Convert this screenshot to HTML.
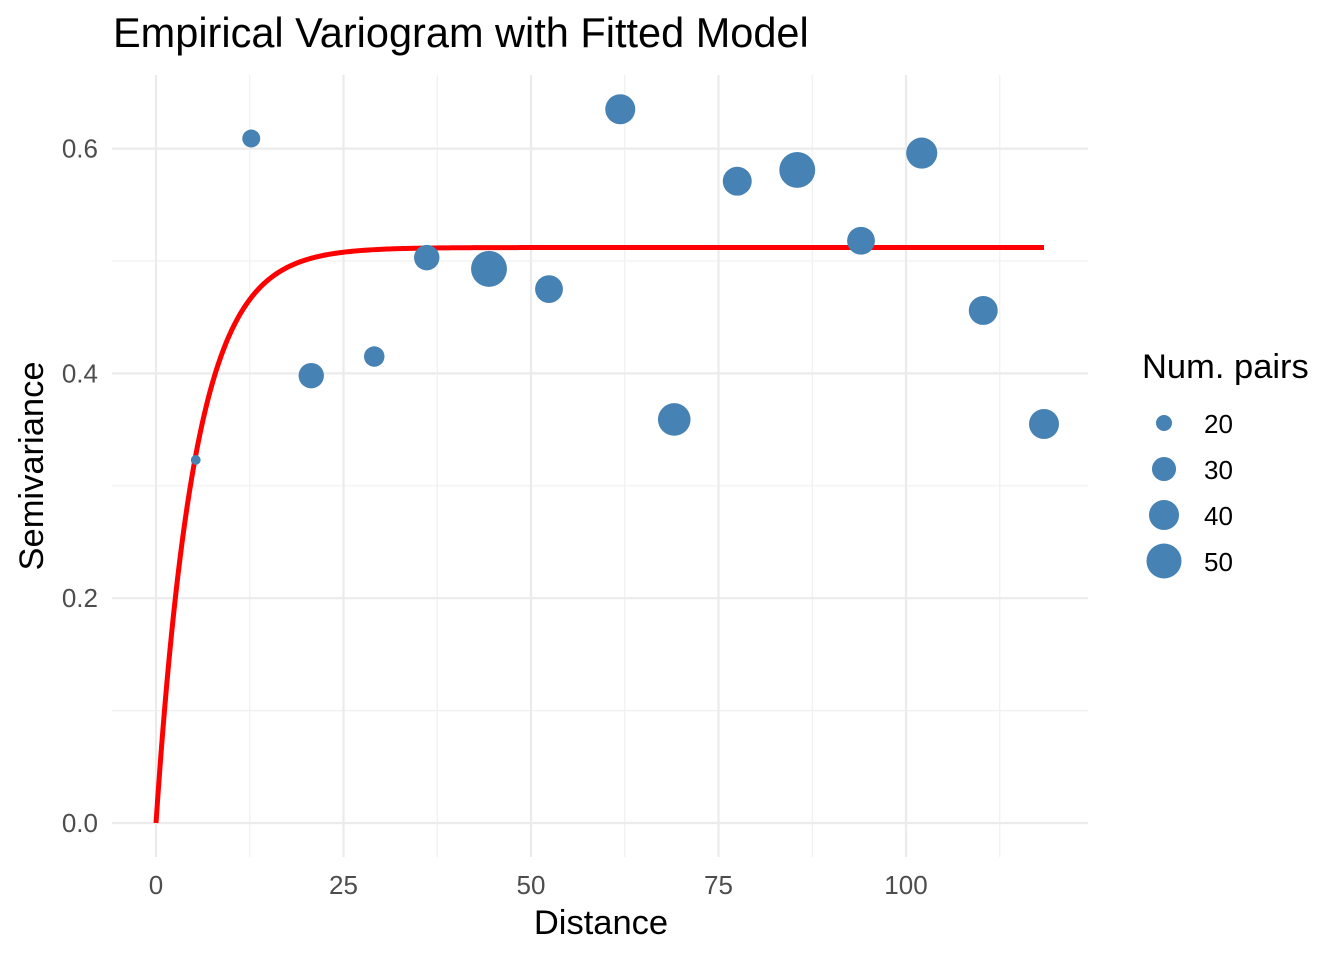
<!DOCTYPE html>
<html><head><meta charset="utf-8"><style>
body{margin:0;background:#fff;font-family:"Liberation Sans",sans-serif}
</style></head><body>
<svg id="chart" width="1344" height="960" xmlns="http://www.w3.org/2000/svg" font-family="Liberation Sans, sans-serif">
<rect width="1344" height="960" fill="#fff"/>
<g id="grid"></g>
<g id="curve"></g>
<g id="points"></g>
<g id="ticks"></g>
<text x="113" y="47" font-size="41.5" fill="#000">Empirical Variogram with Fitted Model</text>
<text x="601" y="934" font-size="34.5" text-anchor="middle" fill="#000">Distance</text>
<text transform="translate(43,466) rotate(-90)" font-size="34.5" text-anchor="middle" fill="#000">Semivariance</text>
<g id="legend">
<text x="1142" y="378" font-size="34.5" fill="#000">Num. pairs</text>
</g>
</svg>
<script>
const distances=[5.3,12.7,20.7,29.1,36.1,44.4,52.4,61.9,69.1,77.5,85.5,94.0,102.1,110.3,118.4];
const gammas=[0.323,0.609,0.398,0.415,0.503,0.493,0.475,0.635,0.359,0.571,0.581,0.518,0.596,0.456,0.355];
const npairs=[15,22,32,25,32,52,36,40,45,38,52,36,42,38,40];
const xTicks=[0,25,50,75,100];
const yTicks=[0.0,0.2,0.4,0.6];
const legendSizes=[20,30,40,50];
const sill=0.512, rangeA=5.2, nugget=0;
const NS="http://www.w3.org/2000/svg";
const X=v=>156+v*7.5, Y=v=>823-v*1124;
const R=n=>Math.sqrt(Math.max(8.07*n-97,16));
function mk(t,a,p){const e=document.createElementNS(NS,t);for(const k in a)e.setAttribute(k,a[k]);p.appendChild(e);return e;}
const grid=document.getElementById('grid');
const L=112,Rt=1088,T=75,B=857;
for(let v=-12.5;v<=125;v+=25){const x=X(v);if(x<L||x>Rt)continue;const l=mk('line',{x1:x,x2:x,y1:T,y2:B,stroke:'#f0f0f0','stroke-width':1.2},grid);}
for(let v=0.1;v<0.7;v+=0.2){const y=Y(v);const l=mk('line',{x1:L,x2:Rt,y1:y,y2:y,stroke:'#f0f0f0','stroke-width':1.2},grid);}
const ticks=document.getElementById('ticks');
xTicks.forEach(v=>{const x=X(v);const l=mk('line',{x1:x,x2:x,y1:T,y2:B,stroke:'#ebebeb','stroke-width':2.2},grid);
const t=mk('text',{x:x,y:894,'font-size':26,'text-anchor':'middle',fill:'#4d4d4d'},ticks);t.textContent=v;});
yTicks.forEach(v=>{const y=Y(v);const l=mk('line',{x1:L,x2:Rt,y1:y,y2:y,stroke:'#ebebeb','stroke-width':2.2},grid);
const t=mk('text',{x:98,y:y+9,'font-size':26,'text-anchor':'end',fill:'#4d4d4d'},ticks);t.textContent=v.toFixed(1);});
let d='';const maxD=Math.max(...distances);
for(let i=0;i<=400;i++){const h=maxD*i/400;const g=nugget+(sill-nugget)*(1-Math.exp(-h/rangeA));d+=(i?'L':'M')+X(h).toFixed(2)+','+Y(g).toFixed(2);}
const c=mk('path',{d:d,fill:'none',stroke:'#ff0000','stroke-width':5},document.getElementById('curve'));


const pts=document.getElementById('points');
distances.forEach((h,i)=>{const p=mk('circle',{cx:X(h),cy:Y(gammas[i]),r:R(npairs[i]),fill:'#4682b4'},pts);

});
const lg=document.getElementById('legend');
legendSizes.forEach((n,i)=>{const y=423+i*46;const c=mk('circle',{cx:1164,cy:y,r:R(n),fill:'#4682b4'},lg);


const t=mk('text',{x:1204,y:y+10,'font-size':26,fill:'#000'},lg);t.textContent=n;

});
</script>
</body></html>
